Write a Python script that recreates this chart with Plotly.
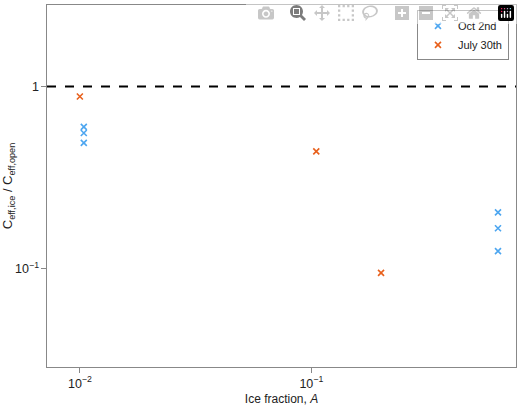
import plotly.graph_objects as go

oct_x = [0.0104, 0.0104, 0.0104, 0.64, 0.64, 0.64]
oct_y = [0.60, 0.555, 0.49, 0.204, 0.167, 0.125]
jul_x = [0.01, 0.105, 0.2]
jul_y = [0.88, 0.44, 0.095]

fig = go.Figure()
fig.add_trace(go.Scatter(x=oct_x, y=oct_y, mode="markers", name="Oct 2nd",
                         marker=dict(symbol="x-thin", size=6, color="#4da6f0", line=dict(width=1.6, color="#4da6f0"))))
fig.add_trace(go.Scatter(x=jul_x, y=jul_y, mode="markers", name="July 30th",
                         marker=dict(symbol="x-thin", size=6, color="#e8601c", line=dict(width=1.6, color="#e8601c"))))
fig.add_shape(type="line", xref="paper", x0=0, x1=1, y0=1, y1=1, line=dict(color="black", width=2, dash="dash"))
ax = dict(type="log", showgrid=False, showline=True, linecolor="#888", mirror=True, ticks="outside",
          tickcolor="#888", zeroline=False, exponentformat="power", dtick=1, tickfont=dict(size=10))
fig.update_layout(
    autosize=True, margin=dict(l=47, r=3, t=5, b=37),
    plot_bgcolor="white", paper_bgcolor="white",
    font=dict(family="Liberation Sans, Arial", size=11, color="#222"),
    xaxis=dict(ax, range=[-2.142, -0.116], title=dict(text="Ice fraction, <i>A</i>", standoff=5, font=dict(size=12))),
    yaxis=dict(ax, range=[-1.538, 0.446], title=dict(text="C<sub>eff,ice</sub> / C<sub>eff,open</sub>", standoff=3, font=dict(size=13))),
    legend=dict(x=0.985, y=0.985, xanchor="right", yanchor="top", bordercolor="#888", borderwidth=1,
                bgcolor="white", font=dict(size=11), itemwidth=30),
    showlegend=True,
)
html = fig.to_html(include_plotlyjs=True, full_html=True, default_width="100vw", default_height="100vh")
html = html.replace("<head>", "<head><style>html,body{margin:0;padding:0;overflow:hidden;}</style>", 1)
with open("out.html", "w") as f:
    f.write(html)
fig.write_html  # figure written above via to_html
